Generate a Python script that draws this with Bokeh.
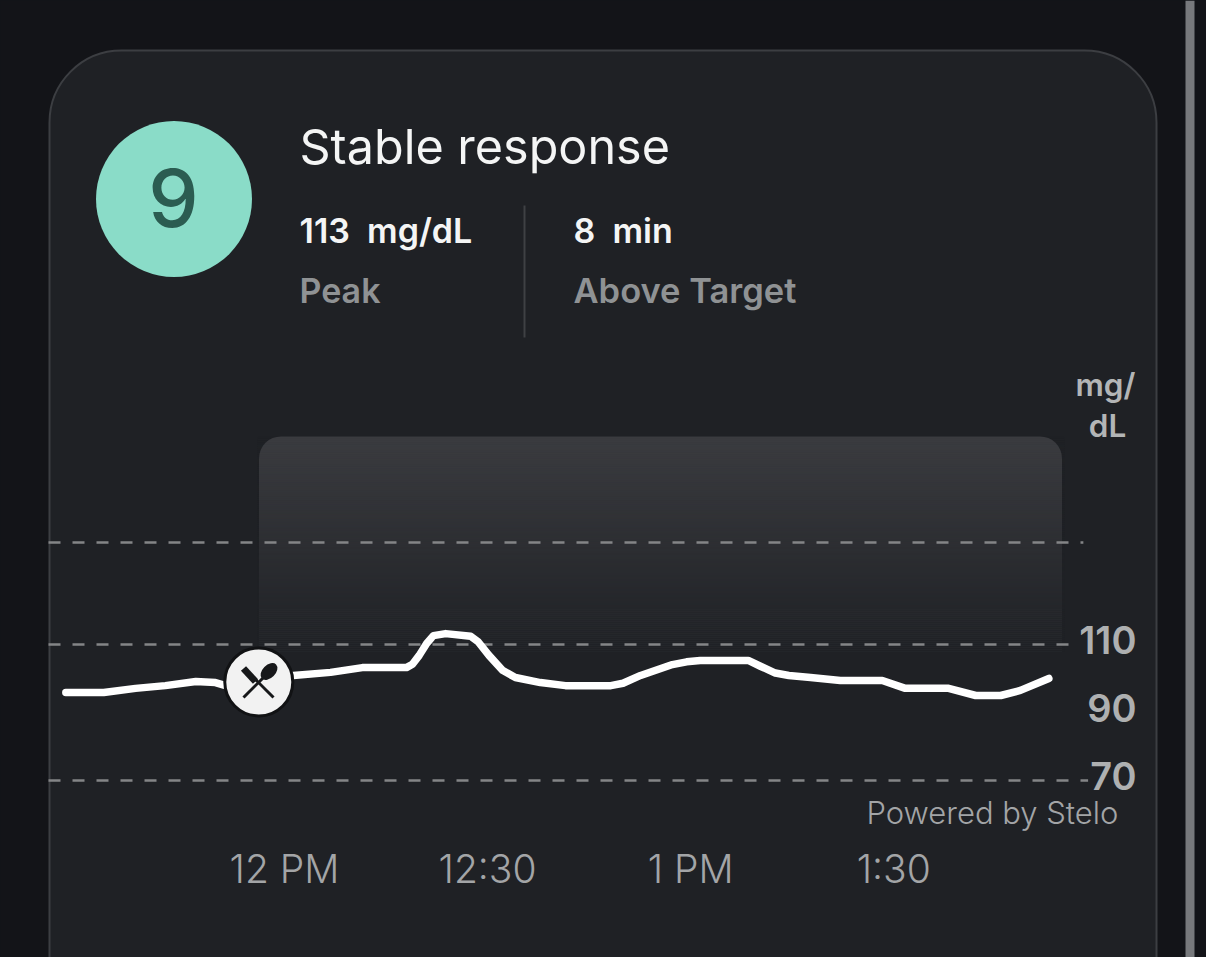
from bokeh.embed import file_html
from bokeh.models import FixedTicker, Label, LinearAxis, Range1d
from bokeh.plotting import figure
from bokeh.resources import INLINE

# minutes after 12 PM and glucose in mg/dL
minutes = [-32.3, -26.7, -22.0, -17.6, -13.1, -10.2, -8.7, -3.8, 1.3, 6.8, 11.5, 18.0, 18.9, 19.9, 21.0,
           22.0, 23.8, 27.5, 28.6, 30.2, 32.2, 34.1, 37.8, 41.5, 48.2, 50.0, 52.6, 57.3, 59.4, 61.4,
           68.5, 70.3, 72.5, 74.5, 77.7, 82.1, 88.3, 91.7, 98.1, 102.1, 105.8, 108.7, 112.9]
glucose = [95.9, 95.9, 97.1, 97.9, 99.1, 98.8, 97.9, 99.5, 100.9, 101.8, 103.2, 103.2, 104.2, 106.8, 110.3,
           112.6, 113.2, 112.4, 110.8, 106.8, 102.4, 100.3, 98.8, 97.9, 97.9, 98.6, 100.9, 104.1, 104.9, 105.3,
           105.3, 103.6, 101.6, 100.9, 100.3, 99.4, 99.4, 97.1, 97.1, 95.0, 95.0, 96.5, 100.0]
meal_minute = -3.8
meal_glucose = 99.0
guide_values = [140, 110, 70]
guide_ends = [118.0, 116.0, 118.7]
x_ticks = [0, 30, 60, 90]
x_labels = ["12 PM", "12:30", "1 PM", "1:30"]
y_ticks = [110, 90, 70]
y_labels = ["110", "90", "70"]
band_top = 171.2
band_bottom = 108.0

W, H = 1206, 957
PX_PER_MIN = 6.77
PX_PER_MG = 3.4
BG = "#131418"
CARD = "#1f2125"
INK = "#17181a"


# reference picture pixels to chart units, for the card furniture
def tx(px):
    return (px - 284) / PX_PER_MIN


def vy(py):
    return 110 - (py - 644) / PX_PER_MG


p = figure(width=W, height=H, output_backend="svg", toolbar_location=None,
           x_range=Range1d(tx(0), tx(W)), y_range=Range1d(vy(H), vy(0)),
           x_axis_type=None, y_axis_type=None, min_border=0,
           background_fill_color=BG, border_fill_color=BG, outline_line_color=None)
p.grid.visible = False

# right edge strip and card
p.quad(left=tx(1185), right=tx(1194), top=vy(0), bottom=vy(957), fill_color="#77797c", line_color=None)
p.quad(left=tx(49), right=tx(1156), top=vy(50), bottom=vy(1100), fill_color=CARD,
       line_color="#3c3e42", line_width=2, border_radius=72)

# shaded window, fading down into the card
p.quad(left=tx(258.5), right=tx(1061.5), top=band_top, bottom=band_bottom, fill_color="#3b3c40",
       line_color=None, border_radius=(22, 22, 0, 0))
steps = 107
for i in range(steps):
    top = band_top - (band_top - band_bottom) * i / steps
    bottom = band_top - (band_top - band_bottom) * (i + 1) / steps
    p.quad(left=tx(257), right=tx(1064), top=top, bottom=bottom, fill_color=CARD,
           fill_alpha=(i + 1) / steps, line_color=None)

# guides
for v, end in zip(guide_values, guide_ends):
    p.line([tx(48), end], [v, v], line_color="#848587", line_width=2.5, line_dash="12 12")

# glucose trace
p.line(minutes, glucose, line_color="#ffffff", line_width=7.5, line_join="round", line_cap="round")

# meal marker
p.scatter([meal_minute], [meal_glucose], size=68, marker="circle", fill_color="#f2f2f2",
          line_color="#111214", line_width=3)
p.segment([tx(243), tx(273)], [vy(697), vy(697)], [tx(264), tx(250)], [vy(676), vy(674)],
          line_color=INK, line_width=3)
p.segment([tx(255)], [vy(681)], [tx(243)], [vy(668)], line_color=INK, line_width=7)
p.ellipse([tx(268.5)], [vy(671)], width=13, height=20, angle=-0.785, width_units="screen",
          height_units="screen", fill_color=INK, line_color=None)

# score badge
p.scatter([tx(173.5)], [vy(198.5)], size=156, marker="circle", fill_color="#8adcc8", line_color=None)


def add_text(text, px, py, size, color, font="Inter", align="left"):
    p.add_layout(Label(x=px, y=H - py, x_units="screen", y_units="screen", text=text,
                       text_font=font, text_font_size=f"{size}px", text_color=color,
                       text_align=align, text_baseline="middle"))


add_text("9", 173, 197, 80, "#2b5c51", font="Inter Medium", align="center")
add_text("Stable response", 299, 146, 48.5, "#f4f5f5")
add_text("113\u00a0 mg/dL", 299, 230, 34, "#f4f5f5", font="Inter SemiBold")
add_text("8\u00a0 min", 573, 230, 34, "#f4f5f5", font="Inter SemiBold")
add_text("Peak", 299, 290, 34, "#8f9294", font="Inter SemiBold")
add_text("Above Target", 573, 290, 34.5, "#8f9294", font="Inter SemiBold")
add_text("mg/", 1105, 384, 31.5, "#b3b5b6", font="Inter SemiBold", align="center")
add_text("dL", 1107, 425, 31.5, "#b3b5b6", font="Inter SemiBold", align="center")
add_text("Powered by Stelo", 866, 812, 31, "#a3a5a7", font="Inter Light")
p.line([tx(524), tx(524)], [vy(205), vy(337)], line_color="#3f4144", line_width=2)

# axes
xaxis = LinearAxis(fixed_location=vy(838), ticker=FixedTicker(ticks=x_ticks),
                   major_label_overrides=dict(zip(x_ticks, x_labels)),
                   axis_line_color=None, major_tick_line_color=None, minor_tick_line_color=None,
                   major_label_text_font="Inter Light", major_label_text_font_size="39px",
                   major_label_text_color="#a3a5a7", major_label_standoff=0)
p.add_layout(xaxis, "below")

p.extra_y_ranges["labels"] = Range1d(vy(H) - 5 / PX_PER_MG, vy(0) - 5 / PX_PER_MG)
yaxis = LinearAxis(y_range_name="labels", fixed_location=tx(1142), ticker=FixedTicker(ticks=y_ticks),
                   major_label_overrides=dict(zip(y_ticks, y_labels)),
                   axis_line_color=None, major_tick_line_color=None, minor_tick_line_color=None,
                   major_label_text_font="Inter SemiBold", major_label_text_font_size="38px",
                   major_label_text_color="#aeb0b1", major_label_standoff=0)
p.add_layout(yaxis, "left")

html = file_html(p, INLINE)
html = html.replace("<body>", f'<body style="background:{BG}">')
open("out.html", "w").write(html)
